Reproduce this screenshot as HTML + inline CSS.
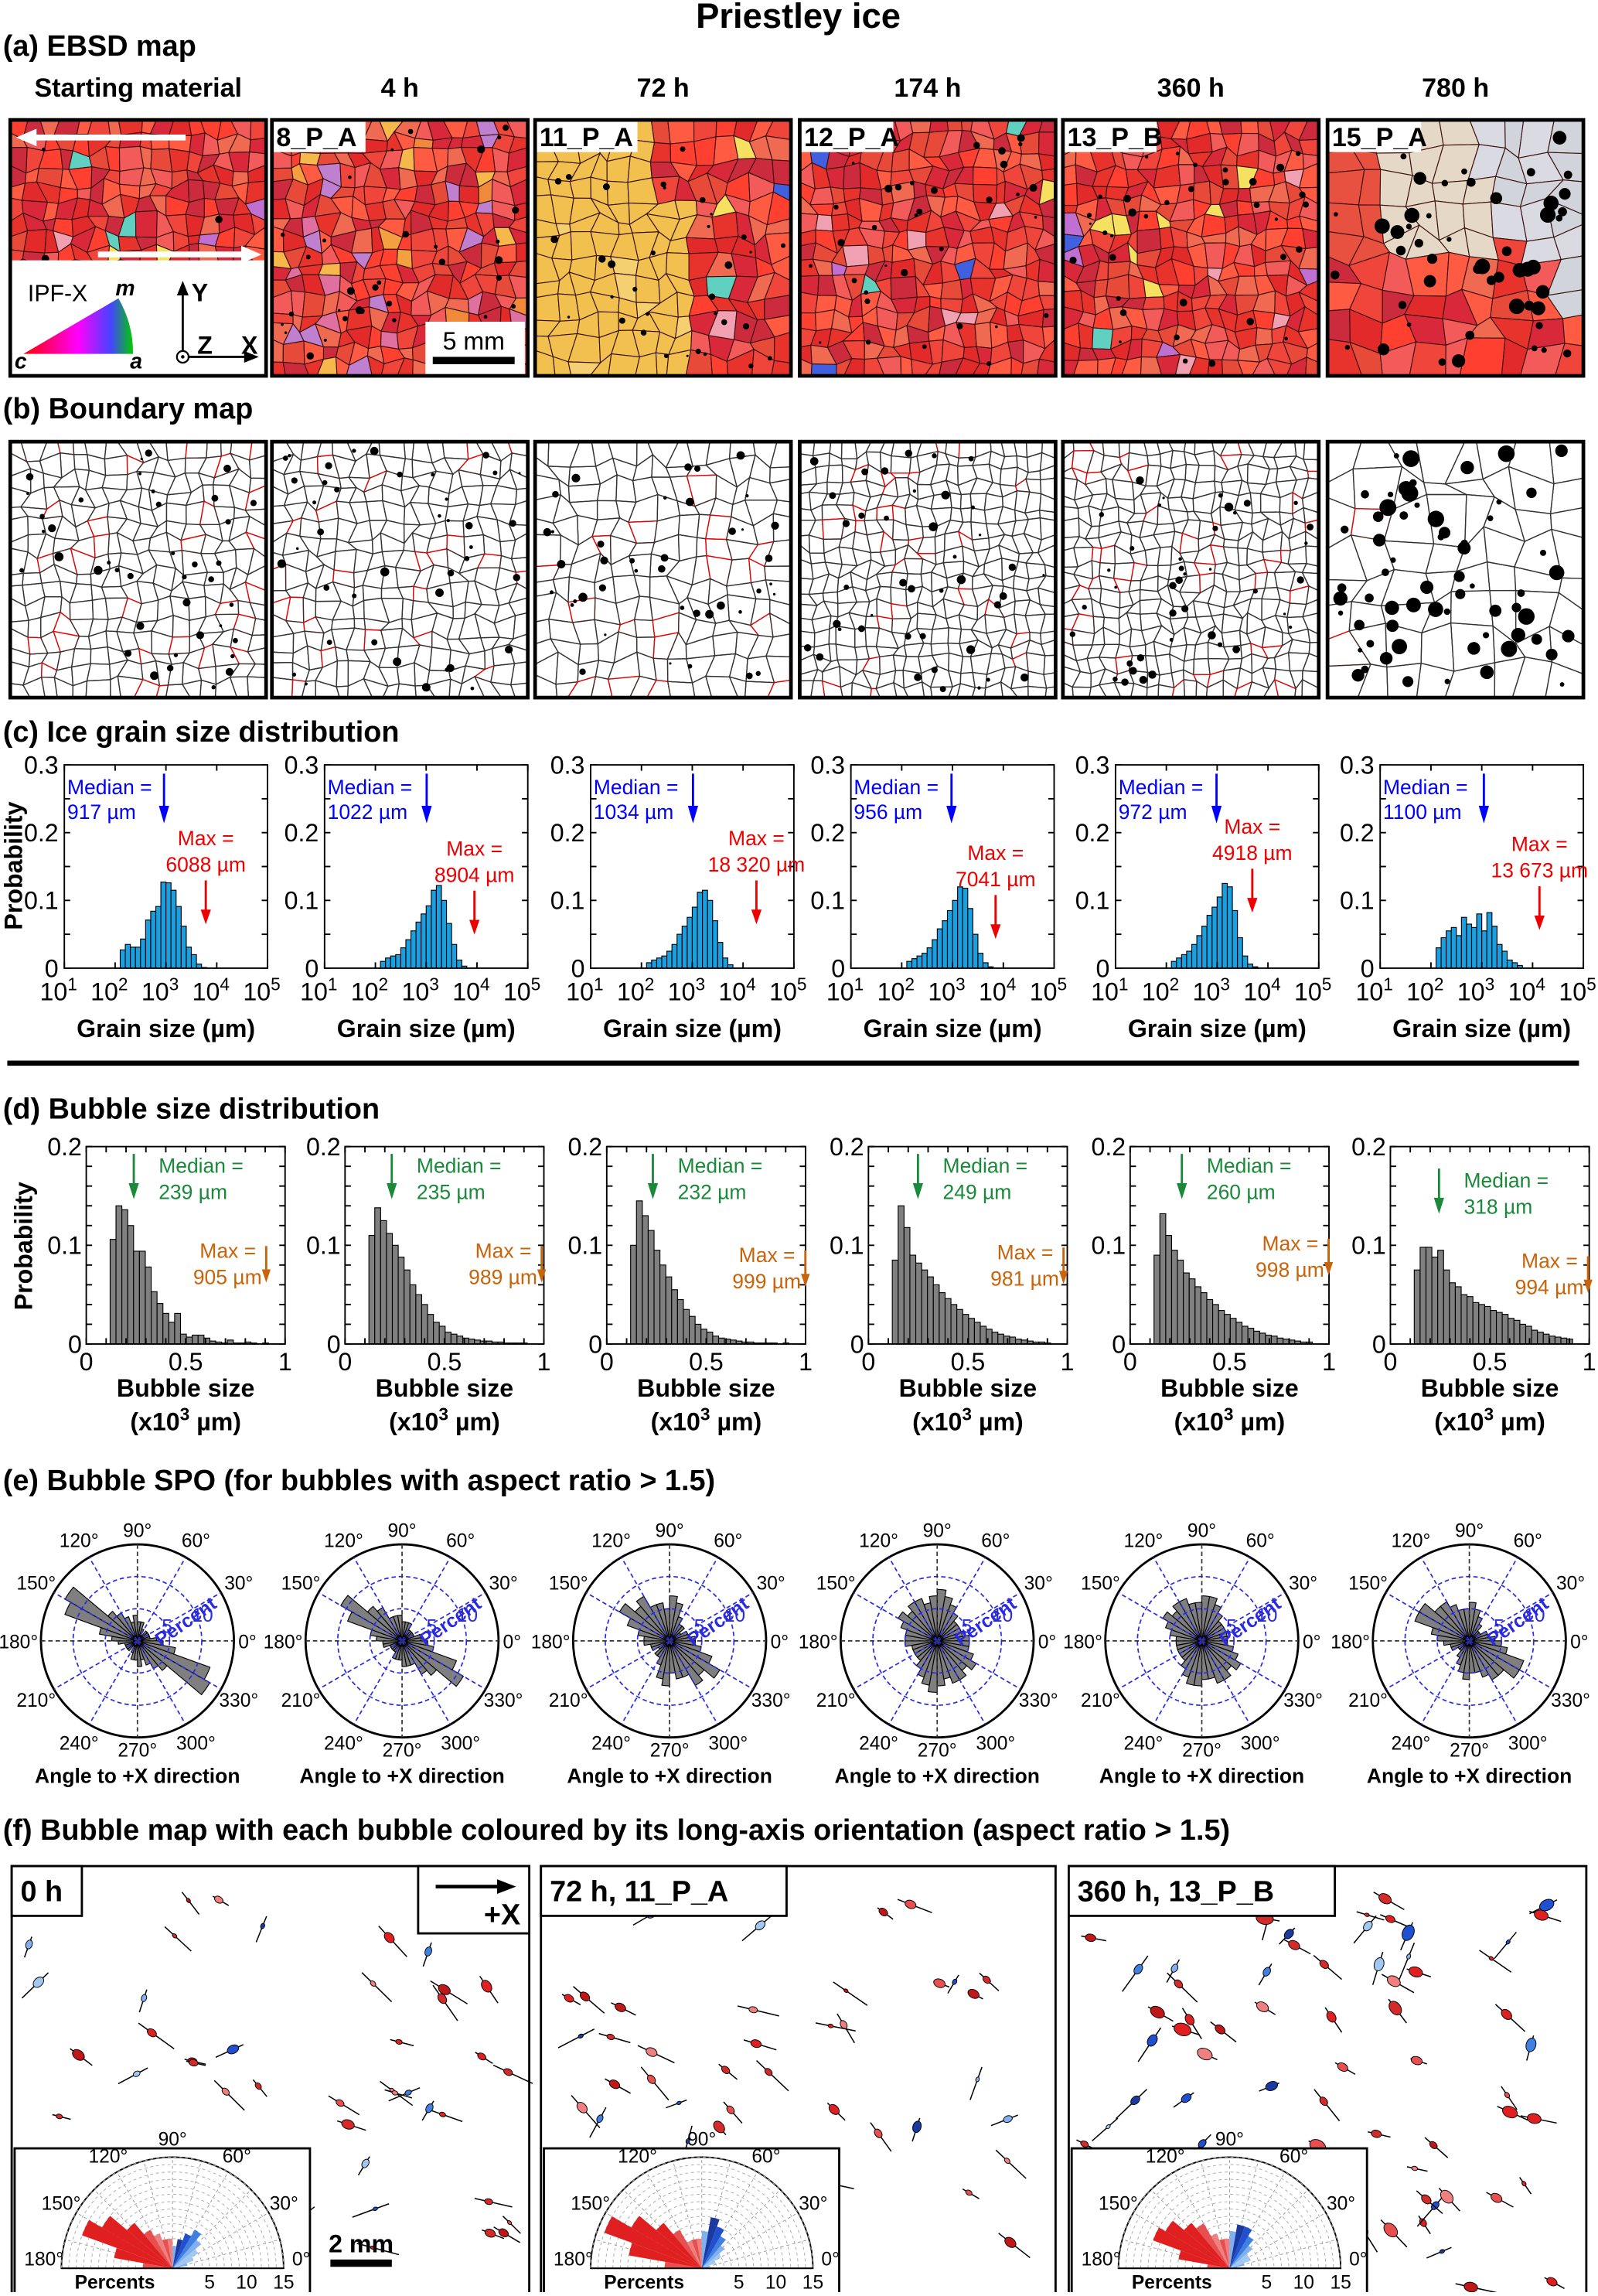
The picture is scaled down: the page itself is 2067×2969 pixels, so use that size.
<!DOCTYPE html>
<html><head><meta charset="utf-8">
<style>
html,body{margin:0;padding:0;background:#fff;}
svg, svg text{font-family:"Liberation Sans", Arial, Helvetica, sans-serif;}
</style></head>
<body>
<svg id="fig" xmlns="http://www.w3.org/2000/svg" width="2067" height="2964" viewBox="0 0 1093 1567.3" font-family="Liberation Sans, Arial, sans-serif">
<rect x="0" y="0" width="1093" height="1568" fill="#fff"/>
<text x="546" y="19" text-anchor="middle" font-size="24" font-weight="bold">Priestley ice</text>
<text x="2" y="38" font-size="20" font-weight="bold">(a) EBSD map</text>
<text x="2" y="286" font-size="20" font-weight="bold">(b) Boundary map</text>
<text x="2" y="507" font-size="20" font-weight="bold">(c) Ice grain size distribution</text>
<line x1="5" y1="727" x2="1080" y2="727" stroke="#000" stroke-width="3.5"/>
<text x="2" y="765" font-size="20" font-weight="bold">(d) Bubble size distribution</text>
<text x="2" y="1019" font-size="20" font-weight="bold">(e) Bubble SPO (for bubbles with aspect ratio &gt; 1.5)</text>
<text x="2" y="1258" font-size="20" font-weight="bold">(f) Bubble map with each bubble coloured by its long-axis orientation (aspect ratio &gt; 1.5)</text>
<g id="root"></g>
</svg>
<script>
// ---------- DATA ----------
const timeLabels = ["Starting material","4 h","72 h","174 h","360 h","780 h"];
const sampleIds = ["","8_P_A","11_P_A","12_P_A","13_P_B","15_P_A"];
const grainBinStart = 2.1;
const grainBinWidth = 0.1;
const grainProb = [
 [0.027,0.035,0.031,0.031,0.043,0.071,0.084,0.091,0.127,0.126,0.115,0.091,0.062,0.031,0.020,0.006,0.001],
 [0.010,0.015,0.018,0.020,0.030,0.042,0.055,0.068,0.080,0.092,0.115,0.122,0.100,0.066,0.035,0.012,0.003],
 [0.008,0.012,0.015,0.018,0.025,0.035,0.050,0.062,0.075,0.090,0.112,0.115,0.100,0.070,0.038,0.015,0.005],
 [0.010,0.014,0.018,0.022,0.030,0.042,0.058,0.070,0.085,0.100,0.120,0.118,0.088,0.050,0.022,0.008,0.002],
 [0.010,0.015,0.020,0.025,0.035,0.048,0.062,0.078,0.090,0.105,0.125,0.120,0.085,0.045,0.018,0.006,0.002],
 [0.030,0.045,0.055,0.060,0.048,0.075,0.065,0.060,0.080,0.055,0.082,0.062,0.035,0.025,0.012,0.008,0.004]
];
const grainMedian = [917,1022,1034,956,972,1100];
const grainMax = [6088,8904,18320,7041,4918,13673];
const grainMaxLabel = ["6088 µm","8904 µm","18 320 µm","7041 µm","4918 µm","13 673 µm"];
const grainXTicks = [1,2,3,4,5];
const grainYTicks = [0,0.1,0.2,0.3];

const bubbleBinStart = 0.12;
const bubbleBinWidth = 0.0295;
const bubbleProb = [
 [0.106,0.140,0.136,0.120,0.094,0.094,0.078,0.053,0.041,0.031,0.022,0.031,0.010,0.007,0.009,0.009,0.006,0.003,0.002,0.001,0.004,0.001,0.001,0.002,0.001,0.0,0.001],
 [0.110,0.138,0.125,0.112,0.100,0.088,0.075,0.060,0.050,0.040,0.030,0.022,0.018,0.012,0.010,0.008,0.006,0.005,0.004,0.003,0.003,0.002,0.002,0.001,0.001,0.001,0.001],
 [0.100,0.145,0.130,0.115,0.095,0.080,0.068,0.055,0.045,0.035,0.028,0.020,0.015,0.012,0.008,0.006,0.005,0.004,0.003,0.002,0.002,0.001,0.001,0.001,0.001,0.0,0.001],
 [0.085,0.140,0.118,0.090,0.082,0.075,0.068,0.060,0.052,0.046,0.040,0.035,0.030,0.026,0.022,0.018,0.015,0.012,0.010,0.008,0.007,0.005,0.004,0.003,0.002,0.002,0.001],
 [0.090,0.132,0.110,0.095,0.085,0.072,0.066,0.058,0.052,0.045,0.040,0.034,0.030,0.026,0.022,0.018,0.016,0.013,0.011,0.009,0.008,0.006,0.005,0.004,0.003,0.002,0.002],
 [0.075,0.098,0.098,0.088,0.095,0.075,0.062,0.058,0.050,0.048,0.042,0.040,0.038,0.034,0.032,0.030,0.026,0.024,0.020,0.018,0.014,0.012,0.010,0.008,0.007,0.006,0.005]
];
const bubbleMedianLabel = ["239 µm","235 µm","232 µm","249 µm","260 µm","318 µm"];
const bubbleMedian = [0.239,0.235,0.232,0.249,0.260,0.318];
const bubbleMaxLabel = ["905 µm","989 µm","999 µm","981 µm","998 µm","994 µm"];
const bubbleMax = [0.905,0.989,0.999,0.981,0.998,0.994];
const bubbleXTicks = [0,0.5,1];
const bubbleYTicks = [0,0.1,0.2];

const roseValues = [
 [3,2,2,2,2,1,2,3,3,4,3,4,5,6,13,12,6,4],
 [3,3,2,2,2,2,3,3,3,4,4,4,6,7,11,9,5,4],
 [4,3,3,2,3,3,4,6,7,5,6,6,8,7,9,7,5,4],
 [5,4,4,4,4,5,6,7,8,7,6,7,7,6,7,6,5,5],
 [4,4,4,4,4,5,6,7,7,6,6,7,7,6,7,6,5,4],
 [4,3,3,2,2,3,4,5,6,5,5,6,7,7,9,9,6,5]
];
const roseRingTicks = [5,10];
const roseMax = 15;
const halfRoseValues = [
 [1,2,3,4,5,6,5,4,3,4,4,5,6,8,11,13,8,4],
 [1,1,2,3,4,5,6,7,5,4,4,4,6,8,11,14,10,5],
 [1,2,3,3,4,5,6,6,5,4,4,5,7,8,10,11,7,3]
];
const halfRoseTicks = [5,10,15];

// ---------- helpers ----------
const NS = "http://www.w3.org/2000/svg";
const root = document.getElementById('root');
function el(tag, attrs, parent){ const e=document.createElementNS(NS,tag); for(const k in attrs) e.setAttribute(k,attrs[k]); (parent||root).appendChild(e); return e; }
let seed = 12345;
function rnd(){ seed = (seed*1103515245+12345) % 2147483648; return seed/2147483648; }

const colX = [7,186,366,547,727,908];
const mapW = 175, mapH = 175;

const reds = ["#e8322c","#f0453a","#d9283a","#ff5a42","#ef6a50","#e22a2a","#f35b5b","#cc2b3d","#ff4030","#e84a3a"];
function cellColor(i, gx, gy, n){
  const fx=gx/n, fy=gy/n;
  if(i===2 && (fx<0.45 || (fx<0.55 && fy>0.3))) return rnd()<0.9?"#f2c04e":"#f5d070";
  if(i===5){ if(fx+ (1-fy)*0.6 >1.05 && fy<0.75) return rnd()<0.5?"#dadae2":"#d2d4dc"; if(fy<0.45 && fx<0.6 && fx>0.2) return "#e6d8c6"; if(fy<0.5 && fx<0.25) return "#e85040"; }
  const r = rnd();
  if(i===1 && r<0.18) return ["#f08a3a","#f5a040","#e070a0","#c080d0","#f6b84a"][Math.floor(rnd()*5)];
  if(r<0.04) return ["#f5e060","#60d0c0","#c070d0","#4060e0","#f0a0b0"][Math.floor(rnd()*5)];
  return reds[Math.floor(rnd()*reds.length)];
}
function buildGrid(n, x0, y0, w, h){
  const pts=[]; for(let j=0;j<=n;j++){ pts[j]=[]; for(let i=0;i<=n;i++){ pts[j][i]=[x0+w*i/n+((i===0||i===n)?0:(rnd()-0.5)*w/n*0.7), y0+h*j/n+((j===0||j===n)?0:(rnd()-0.5)*h/n*0.7)]; } }
  return pts;
}
for(let c=0;c<6;c++){
  const g = el('g',{});
  
  
  const x0=colX[c], y0=82;
  const n = c===5?9:(c===2?13:16);
  const pts = buildGrid(n,x0,y0,mapW,mapH);
  for(let j=0;j<n;j++) for(let i=0;i<n;i++){
    const p=[pts[j][i],pts[j][i+1],pts[j+1][i+1],pts[j+1][i]];
    el('polygon',{points:p.map(q=>q.join(',')).join(' '),fill:cellColor(c,i,j,n),stroke:"#3a1010","stroke-width":0.6},g);
  }
  const nb = c===5?55:(c===0?8:35);
  for(let k=0;k<nb;k++){ el('circle',{cx:x0+5+rnd()*(mapW-10),cy:y0+5+rnd()*(mapH-10),r:(c===5?1.5+rnd()*4:0.8+rnd()*2),fill:"#000"},g); }
  if(c===0){
    el('rect',{x:x0,y:y0+96,width:mapW,height:79,fill:"#fff"},g);
    el('line',{x1:x0+8,y1:y0+12,x2:x0+120,y2:y0+12,stroke:"#fff","stroke-width":4},g);
    el('polygon',{points:`${x0+4},${y0+12} ${x0+18},${y0+6} ${x0+18},${y0+18}`,fill:"#fff"},g);
    el('line',{x1:x0+60,y1:y0+92,x2:x0+160,y2:y0+92,stroke:"#fff","stroke-width":4},g);
    el('polygon',{points:`${x0+172},${y0+92} ${x0+158},${y0+86} ${x0+158},${y0+98}`,fill:"#fff"},g);
    el('path',{d:`M${x0+9},${y0+160} L${x0+84},${y0+160} A75,75 0 0 0 ${x0+74},${y0+122} Z`,fill:"url(#ipf)"},g);
    const t1=el('text',{x:x0+12,y:y0+124,"font-size":16},g); t1.textContent="IPF-X";
    const t2=el('text',{x:x0+72,y:y0+120,"font-size":15,"font-weight":"bold","font-style":"italic"},g); t2.textContent="m";
    const t3=el('text',{x:x0+3,y:y0+170,"font-size":15,"font-weight":"bold","font-style":"italic"},g); t3.textContent="c";
    const t4=el('text',{x:x0+82,y:y0+170,"font-size":15,"font-weight":"bold","font-style":"italic"},g); t4.textContent="a";
    el('line',{x1:x0+118,y1:y0+162,x2:x0+118,y2:y0+116,stroke:"#000","stroke-width":1.5},g);
    el('polygon',{points:`${x0+118},${y0+110} ${x0+114},${y0+120} ${x0+122},${y0+120}`,fill:"#000"},g);
    el('line',{x1:x0+118,y1:y0+162,x2:x0+164,y2:y0+162,stroke:"#000","stroke-width":1.5},g);
    el('polygon',{points:`${x0+170},${y0+162} ${x0+160},${y0+158} ${x0+160},${y0+166}`,fill:"#000"},g);
    el('circle',{cx:x0+118,cy:y0+162,r:4,fill:"#fff",stroke:"#000","stroke-width":1.2},g);
    el('circle',{cx:x0+118,cy:y0+162,r:1.2,fill:"#000"},g);
    const ty=el('text',{x:x0+124,y:y0+124,"font-size":17,"font-weight":"bold"},g); ty.textContent="Y";
    const tz=el('text',{x:x0+128,y:y0+160,"font-size":17,"font-weight":"bold"},g); tz.textContent="Z";
    const tx=el('text',{x:x0+158,y:y0+160,"font-size":17,"font-weight":"bold"},g); tx.textContent="X";
  }
  if(c===1){
    el('rect',{x:x0+105,y:y0+138,width:68,height:36,fill:"#fff"},g);
    el('rect',{x:x0+110,y:y0+162,width:56,height:5,fill:"#000"},g);
    const s=el('text',{x:x0+138,y:y0+157,"font-size":17,"text-anchor":"middle"},g); s.textContent="5 mm";
  }
  if(c>0){
    const lbw = c===2?70:64;
    el('rect',{x:x0,y:y0,width:lbw,height:22,fill:"#fff"},g);
    const s=el('text',{x:x0+3,y:y0+18,"font-size":18,"font-weight":"bold"},g); s.textContent=sampleIds[c];
  }
  el('rect',{x:x0,y:y0,width:mapW,height:mapH,fill:"none",stroke:"#000","stroke-width":2.5},g);
  const cl=el('text',{x:x0+mapW/2,y:66,"font-size":18,"font-weight":"bold","text-anchor":"middle"});
  
  
  cl.textContent=timeLabels[c];

  const b=el('g',{});
  
  
  const by=302;
  el('rect',{x:x0,y:by,width:mapW,height:mapH,fill:"#fff"},b);
  const n2 = c===5?8:(c===2?13:(c>=3?19:16));
  const p2 = buildGrid(n2,x0,by,mapW,mapH);
  for(let j=0;j<n2;j++) for(let i=0;i<n2;i++){
    const p=[p2[j][i],p2[j][i+1],p2[j+1][i+1],p2[j+1][i]];
    el('polygon',{points:p.map(q=>q.join(',')).join(' '),fill:"none",stroke:rnd()<0.1?"#e00":"#333","stroke-width":0.7},b);
  }
  const nb2 = c===5?65:40;
  for(let k=0;k<nb2;k++){ el('circle',{cx:x0+5+rnd()*(mapW-10),cy:by+5+rnd()*(mapH-10),r:(c===5?1.5+rnd()*4.5:0.8+rnd()*2.3),fill:"#000"},b); }
  el('rect',{x:x0,y:by,width:mapW,height:mapH,fill:"none",stroke:"#000","stroke-width":2.5},b);
}
const defs=el('defs',{});
const lg=el('linearGradient',{id:"ipf",x1:"0",y1:"0",x2:"1",y2:"0"},defs);
el('stop',{offset:"0","stop-color":"#f00"},lg); el('stop',{offset:"0.5","stop-color":"#f0f"},lg); el('stop',{offset:"0.8","stop-color":"#44f"},lg); el('stop',{offset:"1","stop-color":"#0c0"},lg);

// ---------- (c) grain size histograms ----------
const gLeft=[44,222,404,582,763,944], gW=139, gTop=523, gBot=662;
const maxLabY=[578,585,578,588,570,582];
for(let c=0;c<6;c++){
  const L=gLeft[c];
  const xs=v=>L+(v-1)/4*gW;
  const ys=v=>gBot-v/0.3*(gBot-gTop);
  const g=el('g',{});
  
  
  grainProb[c].forEach((p,i)=>{
    const a=grainBinStart+i*grainBinWidth;
    const r=el('rect',{x:xs(a),y:ys(p),width:xs(a+grainBinWidth)-xs(a),height:gBot-ys(p),fill:"#1aa0e0",stroke:"#000","stroke-width":0.6},g);
    
    
  });
  el('rect',{x:L,y:gTop,width:gW,height:gBot-gTop,fill:"none",stroke:"#000","stroke-width":1},g);
  grainXTicks.forEach(t=>{
    el('line',{x1:xs(t),y1:gBot,x2:xs(t),y2:gBot-4,stroke:"#000"},g);
    el('line',{x1:xs(t),y1:gTop,x2:xs(t),y2:gTop+4,stroke:"#000"},g);
    const tx=el('text',{x:xs(t)-4,y:gBot+22,"font-size":17,"text-anchor":"middle"},g);
    tx.textContent="10";
    const sp=el('tspan',{dy:-7,"font-size":12},tx); sp.textContent=String(t);
  });
  [0,0.05,0.1,0.15,0.2,0.25,0.3].forEach(t=>{
    el('line',{x1:L,y1:ys(t),x2:L+4,y2:ys(t),stroke:"#000"},g);
    el('line',{x1:L+gW,y1:ys(t),x2:L+gW-4,y2:ys(t),stroke:"#000"},g);
  });
  grainYTicks.forEach(t=>{
    const tt=el('text',{x:L-4,y:ys(t)+6,"font-size":17,"text-anchor":"end"},g); tt.textContent=t===0?"0":String(t);
  });
  const xt=el('text',{x:L+gW/2,y:709,"font-size":17,"font-weight":"bold","text-anchor":"middle"},g); xt.textContent="Grain size (µm)";
  const mx=xs(Math.log10(grainMedian[c]));
  el('line',{x1:mx,y1:gTop+6,x2:mx,y2:gTop+30,stroke:"#00f","stroke-width":1.5},g);
  el('polygon',{points:`${mx-3.5},${gTop+28} ${mx+3.5},${gTop+28} ${mx},${gTop+40}`,fill:"#00f"},g);
  const m1=el('text',{x:L+2,y:gTop+20,"font-size":14,fill:"#00f"},g); m1.textContent="Median =";
  const m2=el('text',{x:L+2,y:gTop+37,"font-size":14,fill:"#00f"},g); m2.textContent=grainMedian[c]+" µm";
  const ax=xs(Math.min(Math.log10(grainMax[c]),4.5));
  const my=maxLabY[c];
  const k1=el('text',{x:ax,y:my,"font-size":14,fill:"#e00","text-anchor":"middle"},g); k1.textContent="Max =";
  const k2=el('text',{x:ax,y:my+18,"font-size":14,fill:"#e00","text-anchor":"middle"},g); k2.textContent=grainMaxLabel[c];
  el('line',{x1:ax,y1:my+24,x2:ax,y2:my+46,stroke:"#e00","stroke-width":1.5},g);
  el('polygon',{points:`${ax-3.5},${my+44} ${ax+3.5},${my+44} ${ax},${my+54}`,fill:"#e00"},g);
}
const yl1=el('text',{x:0,y:0,"font-size":17,"font-weight":"bold","text-anchor":"middle",transform:"translate(15,592) rotate(-90)"});
  yl1.textContent="Probability";

// ---------- (d) bubble histograms ----------
const bLeft=[59,236,415,594,773,951], bW=136, bTop=784, bBot=919;
const bMaxY=[862,862,865,863,857,869];
for(let c=0;c<6;c++){
  const L=bLeft[c];
  const xs=v=>L+v*bW;
  const ys=v=>bBot-v/0.2*(bBot-bTop);
  const g=el('g',{});
  
  
  bubbleProb[c].forEach((p,i)=>{
    const a=bubbleBinStart+i*bubbleBinWidth;
    const r=el('rect',{x:xs(a),y:ys(p),width:xs(a+bubbleBinWidth)-xs(a),height:bBot-ys(p),fill:"#808080",stroke:"#000","stroke-width":0.6},g);
    
    
  });
  el('rect',{x:L,y:bTop,width:bW,height:bBot-bTop,fill:"none",stroke:"#000","stroke-width":1},g);
  for(let t=0;t<=1.0001;t+=0.1){ el('line',{x1:xs(t),y1:bBot,x2:xs(t),y2:bBot-4,stroke:"#000"},g); el('line',{x1:xs(t),y1:bTop,x2:xs(t),y2:bTop+4,stroke:"#000"},g); }
  for(let t=0;t<=0.2001;t+=0.02){ el('line',{x1:L,y1:ys(t),x2:L+4,y2:ys(t),stroke:"#000"},g); el('line',{x1:L+bW,y1:ys(t),x2:L+bW-4,y2:ys(t),stroke:"#000"},g); }
  bubbleXTicks.forEach(t=>{ const tx=el('text',{x:xs(t),y:bBot+18,"font-size":17,"text-anchor":"middle"},g); tx.textContent=String(t); });
  bubbleYTicks.forEach(t=>{ const tx=el('text',{x:L-3,y:ys(t)+6,"font-size":17,"text-anchor":"end"},g); tx.textContent=t===0?"0":String(t); });
  const t1=el('text',{x:L+bW/2,y:955,"font-size":17,"font-weight":"bold","text-anchor":"middle"},g); t1.textContent="Bubble size";
  const t2=el('text',{x:L+bW/2,y:978,"font-size":17,"font-weight":"bold","text-anchor":"middle"},g); t2.textContent="(x10";
  const sp=el('tspan',{dy:-7,"font-size":12},t2); sp.textContent="3";
  const sp2=el('tspan',{dy:7},t2); sp2.textContent=" µm)";
  const mx=xs(bubbleMedian[c])-(c===5?10:0);
  const mtop = c===5?bTop+15:bTop+5;
  el('line',{x1:mx,y1:mtop,x2:mx,y2:mtop+22,stroke:"#1a8a3a","stroke-width":1.5},g);
  el('polygon',{points:`${mx-3.5},${mtop+20} ${mx+3.5},${mtop+20} ${mx},${mtop+31}`,fill:"#1a8a3a"},g);
  const m1=el('text',{x:mx+17,y:mtop+13,"font-size":14,fill:"#1a8a3a"},g); m1.textContent="Median =";
  const m2=el('text',{x:mx+17,y:mtop+31,"font-size":14,fill:"#1a8a3a"},g); m2.textContent=bubbleMedianLabel[c];
  const ax=xs(bubbleMax[c]);
  const my=bMaxY[c];
  const k1=el('text',{x:ax-7,y:my-2,"font-size":14,fill:"#c8640a","text-anchor":"end"},g); k1.textContent="Max =";
  const k2=el('text',{x:ax-3,y:my+16,"font-size":14,fill:"#c8640a","text-anchor":"end"},g); k2.textContent=bubbleMaxLabel[c];
  el('line',{x1:ax,y1:my-10,x2:ax,y2:my+8,stroke:"#c8640a","stroke-width":1.5},g);
  el('polygon',{points:`${ax-3},${my+6} ${ax+3},${my+6} ${ax},${my+15}`,fill:"#c8640a"},g);
}
const yl2=el('text',{x:0,y:0,"font-size":17,"font-weight":"bold","text-anchor":"middle",transform:"translate(22,852) rotate(-90)"});
  yl2.textContent="Probability";

// ---------- (e) rose diagrams ----------
const rCx=[94,275,458,641,822,1005], rCy=1122, rR=66;
function P(cx,cy,r,deg){ const a=deg*Math.PI/180; return [cx+r*Math.cos(a), cy-r*Math.sin(a)]; }
for(let c=0;c<6;c++){
  const cx=rCx[c], cy=rCy;
  const rs=v=>v/roseMax*rR;
  const g=el('g',{});
  
  
  el('circle',{cx,cy,r:rR,fill:"#fff",stroke:"#000","stroke-width":1.5},g);
  roseValues[c].forEach((v,i)=>{
    [0,180].forEach(off=>{
      const a0=i*10+off, a1=a0+10, r=rs(v);
      const p0=P(cx,cy,r,a0), p1=P(cx,cy,r,a1);
      const w=el('path',{d:`M${cx},${cy} L${p0[0]},${p0[1]} A${r},${r} 0 0 0 ${p1[0]},${p1[1]} Z`,fill:"#7f7f7f",stroke:"#000","stroke-width":0.6},g);
      
      
    });
  });
  roseRingTicks.forEach(t=>el('circle',{cx,cy,r:rs(t),fill:"none",stroke:"#2a2ae0","stroke-width":0.9,"stroke-dasharray":"3,2"},g));
  [30,60,120,150,210,240,300,330].forEach(a=>{ const p=P(cx,cy,rR,a); el('line',{x1:cx,y1:cy,x2:p[0],y2:p[1],stroke:"#2a2ae0","stroke-width":0.9,"stroke-dasharray":"3,2"},g); });
  el('line',{x1:cx,y1:cy-rR,x2:cx,y2:cy+rR,stroke:"#333","stroke-width":0.9,"stroke-dasharray":"3,2"},g);
  el('line',{x1:cx-rR,y1:cy,x2:cx+rR,y2:cy,stroke:"#333","stroke-width":0.9,"stroke-dasharray":"3,2"},g);
  [30,60,120,150,210,240,300,330].forEach(a=>{
    const p=P(cx,cy,rR+14,a);
    const t=el('text',{x:p[0],y:p[1]+5,"font-size":13,"text-anchor":"middle"},g); t.textContent=a+"°";
  });
  const t90=el('text',{x:cx,y:cy-rR-5,"font-size":13,"text-anchor":"middle"},g); t90.textContent="90°";
  const t270=el('text',{x:cx,y:cy+rR+13,"font-size":13,"text-anchor":"middle"},g); t270.textContent="270°";
  const t0=el('text',{x:cx+rR+3,y:cy+5,"font-size":13,"text-anchor":"start"},g); t0.textContent="0°";
  const t180=el('text',{x:cx-rR-2,y:cy+5,"font-size":13,"text-anchor":"end"},g); t180.textContent="180°";
  roseRingTicks.forEach(t=>{ const p=P(cx,cy,rs(t),20); const tt=el('text',{x:p[0]-4,y:p[1]+2,"font-size":13,fill:"#2a2ae0"},g); tt.textContent=String(t); });
  const pc=el('text',{x:0,y:0,"font-size":13,"font-weight":"bold",fill:"#2a2ae0",transform:`translate(${cx+16},${cy+4}) rotate(-35)`},g); pc.textContent="Percent";
  const xl=el('text',{x:cx,y:1219,"font-size":14,"font-weight":"bold","text-anchor":"middle"},g); xl.textContent="Angle to +X direction";
}

// ---------- (f) bubble maps ----------
const fX=[8,370,731], fW=[354,352,354], fTop=1276;
const fLabels=["0 h","72 h, 11_P_A","360 h, 13_P_B"];
const fLabW=[48,168,182];
const redShades=["#e02020","#d42a2a","#e85050","#f08080","#c01818"];
const blueShades=["#2050d0","#4080e0","#80b0f0","#1a3aa0","#a0c8f0"];
for(let c=0;c<3;c++){
  const x0=fX[c], w=fW[c];
  const g=el('g',{});
  
  
  el('rect',{x:x0,y:fTop,width:w,height:300,fill:"#fff",stroke:"#000","stroke-width":1.5},g);
  const nb = c===2?80:50;
  for(let k=0;k<nb;k++){
    const bx=x0+10+rnd()*(w-20), by=fTop+20+rnd()*270;
    const red=rnd()<0.62;
    const ang= red ? 120+rnd()*50 : 20+rnd()*60;
    const a=ang*Math.PI/180, len=7+rnd()*12;
    const col = red?redShades[Math.floor(rnd()*5)]:blueShades[Math.floor(rnd()*5)];
    const rx=1.5+rnd()*(c===2?4.5:3);
    el('line',{x1:bx-Math.cos(a)*len,y1:by+Math.sin(a)*len,x2:bx+Math.cos(a)*len*0.6,y2:by-Math.sin(a)*len*0.6,stroke:"#000","stroke-width":0.8},g);
    el('ellipse',{cx:bx,cy:by,rx:rx,ry:rx*0.7,fill:col,stroke:"#000","stroke-width":0.5,transform:`rotate(${-ang},${bx},${by})`},g);
  }
  el('rect',{x:x0,y:fTop,width:fLabW[c],height:34,fill:"#fff",stroke:"#000","stroke-width":1.5},g);
  const lt=el('text',{x:x0+6,y:fTop+24,"font-size":20,"font-weight":"bold"},g); lt.textContent=fLabels[c];
  if(c===0){
    el('rect',{x:x0+278,y:fTop,width:76,height:46,fill:"#fff",stroke:"#000","stroke-width":1.5},g);
    el('line',{x1:x0+290,y1:fTop+14,x2:x0+335,y2:fTop+14,stroke:"#000","stroke-width":2.5},g);
    el('polygon',{points:`${x0+345},${fTop+14} ${x0+332},${fTop+9} ${x0+332},${fTop+19}`,fill:"#000"},g);
    const px=el('text',{x:x0+348,y:fTop+40,"font-size":20,"font-weight":"bold","text-anchor":"end"},g); px.textContent="+X";
    el('rect',{x:x0+218,y:1545,width:42,height:5,fill:"#000"},g);
    const sb=el('text',{x:x0+239,y:1540,"font-size":17,"font-weight":"bold","text-anchor":"middle"},g); sb.textContent="2 mm";
  }
  const ix=x0+2, iy=1469;
  el('rect',{x:ix,y:iy,width:202,height:100,fill:"#fff",stroke:"#000","stroke-width":1.5},g);
  const hcx=ix+108, hcy=1551, hR=76;
  const hs=v=>v/15*hR;
  el('path',{d:`M${hcx-hR},${hcy} A${hR},${hR} 0 0 1 ${hcx+hR},${hcy} Z`,fill:"#fff",stroke:"#000","stroke-width":1},g);
  for(let t=1;t<=15;t++) el('path',{d:`M${hcx-hs(t)},${hcy} A${hs(t)},${hs(t)} 0 0 1 ${hcx+hs(t)},${hcy}`,fill:"none",stroke:"#aaa","stroke-width":0.5,"stroke-dasharray":"2,2"},g);
  [15,30,45,60,75,90,105,120,135,150,165].forEach(a=>{ const p=P(hcx,hcy,hR,a); el('line',{x1:hcx,y1:hcy,x2:p[0],y2:p[1],stroke:"#999","stroke-width":0.5,"stroke-dasharray":"2,2"},g); });
  halfRoseValues[c].forEach((v,i)=>{
    const a0=i*10,a1=a0+10,r=hs(v);
    const p0=P(hcx,hcy,r,a0),p1=P(hcx,hcy,r,a1);
    const f = i<9 ? blueShades[[1,2,4,4,2,1,0,3,2][i]] : redShades[[3,2,3,2,0,0,0,0,2][i-9]];
    const w=el('path',{d:`M${hcx},${hcy} L${p0[0]},${p0[1]} A${r},${r} 0 0 0 ${p1[0]},${p1[1]} Z`,fill:f,stroke:"none"},g);
    
    
  });
  el('line',{x1:hcx-hR,y1:hcy,x2:hcx+hR,y2:hcy,stroke:"#000","stroke-width":1},g);
  [0,30,60,90,120,150,180].forEach(a=>{ const p=P(hcx,hcy,hR+12,a); const t=el('text',{x:p[0],y:p[1]+(a===0||a===180?-2:4),"font-size":13,"text-anchor":"middle"},g); t.textContent=a+"°"; });
  const pl=el('text',{x:hcx-12,y:1565,"font-size":13,"font-weight":"bold","text-anchor":"end"},g); pl.textContent="Percents";
  halfRoseTicks.forEach(t=>{ const tt=el('text',{x:hcx+hs(t),y:1565,"font-size":13,"text-anchor":"middle"},g); tt.textContent=String(t); });
}
</script>
</body></html>
